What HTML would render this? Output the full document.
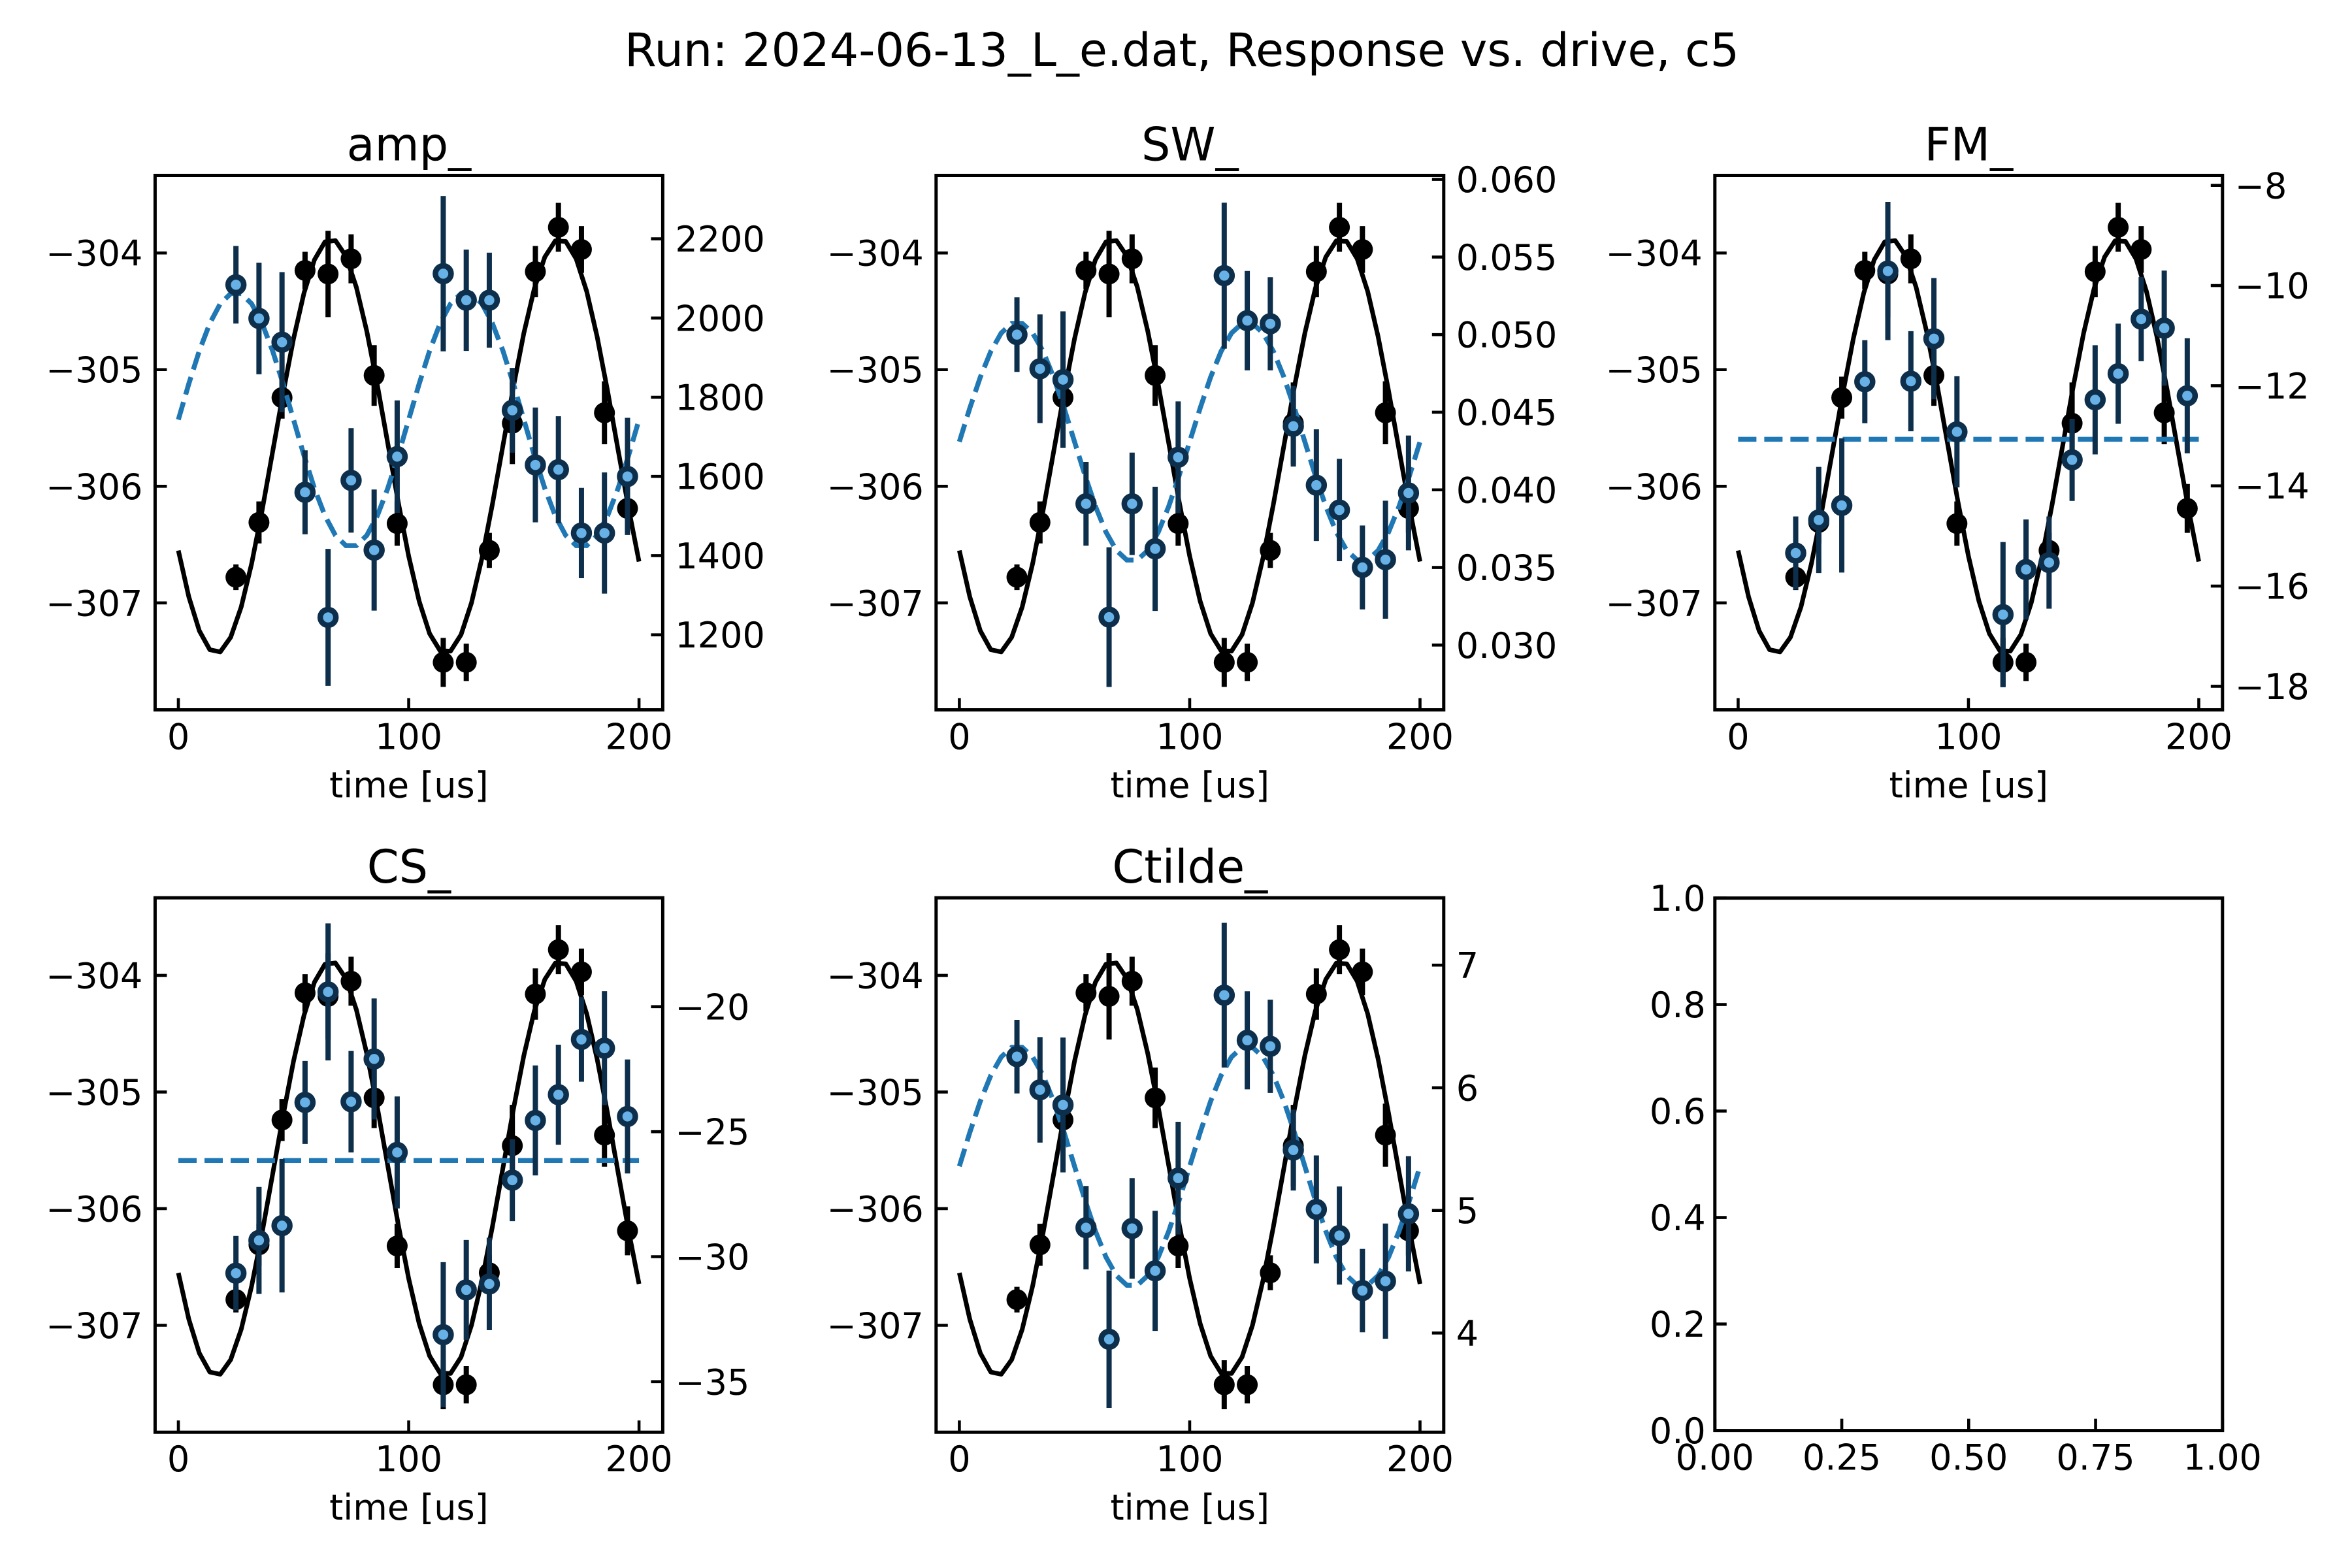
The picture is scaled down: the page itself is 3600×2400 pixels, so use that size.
<!DOCTYPE html>
<html><head><meta charset="utf-8"><style>
html,body{margin:0;padding:0;background:#fff;}
svg{display:block;font-family:"DejaVu Sans","Liberation Sans",sans-serif;}
</style></head><body>
<svg id="fig" width="3600" height="2400" viewBox="0 0 3600 2400" xmlns="http://www.w3.org/2000/svg">
<rect width="3600" height="2400" fill="#fff"/>
<text x="1809" y="101" font-size="70" text-anchor="middle">Run: 2024-06-13_L_e.dat, Response vs. drive, c5</text>
</svg>
<script>
const tVals=[25,35,45,55,65,75,85,95,115,125,135,145,155,165,175,185,195];
const blackVals=[-306.78,-306.31,-305.24,-304.15,-304.18,-304.05,-305.05,-306.32,-307.51,-307.51,-306.55,-305.46,-304.16,-303.78,-303.97,-305.37,-306.19];
const blackErr=[0.11,0.18,0.18,0.16,0.37,0.21,0.26,0.19,0.21,0.16,0.15,0.35,0.22,0.21,0.2,0.27,0.21];
const blackFit=[-305.655,1.775,99.5,16.5];
const ampVals=[2084,1999,1939,1560,1244,1590,1414,1650,2112,2045,2045,1767,1629,1617,1457,1457,1600];
const ampErr=[98,141,177,106,173,132,153,142,196,128,120,107,145,135,114,153,148];
const ampFit=[1743.5,321.5,100,25];
const ampTicks=[1200,1400,1600,1800,2000,2200];
const swVals=[0.0500,0.0478,0.0471,0.0391,0.0318,0.0391,0.0362,0.0421,0.0538,0.0509,0.0507,0.0441,0.0403,0.0387,0.0350,0.0355,0.0398];
const swErr=[0.0024,0.0035,0.0044,0.0027,0.0045,0.0033,0.0040,0.0036,0.0047,0.0032,0.0030,0.0026,0.0036,0.0033,0.0027,0.0038,0.0037];
const swFit=[0.0431,0.0077,100,25];
const swTicks=[0.030,0.035,0.040,0.045,0.050,0.055,0.060];
const fmVals=[-15.34,-14.68,-14.39,-11.92,-9.71,-11.91,-11.06,-12.92,-16.57,-15.67,-15.53,-13.48,-12.28,-11.76,-10.67,-10.85,-12.2];
const fmErr=[0.73,1.06,1.34,0.83,1.38,1.0,1.21,1.11,1.45,1.0,0.92,0.82,1.09,1.0,0.84,1.15,1.15];
const fmFit=[-13.07];
const fmTicks=[-18,-16,-14,-12,-10,-8];
const csVals=[-30.66,-29.35,-28.76,-23.83,-19.41,-23.80,-22.09,-25.83,-33.12,-31.33,-31.09,-26.94,-24.55,-23.52,-21.31,-21.66,-24.39];
const csErr=[1.49,2.14,2.67,1.66,2.74,2.03,2.42,2.24,2.9,2.0,1.85,1.64,2.2,2.0,1.69,2.28,2.28];
const csFit=[-26.15];
const csTicks=[-35,-30,-25,-20];
const ctVals=[6.254,5.983,5.86,4.859,3.949,4.853,4.507,5.263,6.755,6.387,6.338,5.492,5.008,4.795,4.346,4.423,4.972];
const ctErr=[0.30,0.43,0.55,0.34,0.56,0.41,0.49,0.46,0.59,0.40,0.38,0.33,0.44,0.40,0.34,0.47,0.47];
const ctFit=[5.36,0.98,100,25];
const ctTicks=[4,5,6,7];
const leftTicks=[-307,-306,-305,-304];
const xTicks=[0,100,200];
const emptyTicksY=[0,0.2,0.4,0.6,0.8,1.0];
const emptyTicksX=[0,0.25,0.5,0.75,1.0];

const NS="http://www.w3.org/2000/svg";
const svg=document.getElementById('fig');
const W=777,H=818,FS=54;
const xlim=[-10.1,210.3];
const leftLim=[-307.917,-303.335];
function mk(tag,attrs,parent){const e=document.createElementNS(NS,tag);for(const k in attrs)e.setAttribute(k,attrs[k]);(parent||svg).appendChild(e);return e;}
function fmt(v,d){const s=Math.abs(v).toFixed(d);return (v<0?'\u2212':'')+s;}

const panels=[
 {name:'amp',title:'amp_',x:237.4,y:268.5,vals:ampVals,err:ampErr,fit:ampFit,ticks:ampTicks,dec:0,lim:[1010.5,2360.2]},
 {name:'sw',title:'SW_',x:1432.8,y:268.5,vals:swVals,err:swErr,fit:swFit,ticks:swTicks,dec:3,lim:[0.025826,0.060257]},
 {name:'fm',title:'FM_',x:2624.8,y:268.5,vals:fmVals,err:fmErr,fit:fmFit,ticks:fmTicks,dec:0,lim:[-18.471,-7.801]},
 {name:'cs',title:'CS_',x:237.4,y:1374.2,vals:csVals,err:csErr,fit:csFit,ticks:csTicks,dec:0,lim:[-37.022,-15.645]},
 {name:'ctilde',title:'Ctilde_',x:1432.8,y:1374.2,vals:ctVals,err:ctErr,fit:ctFit,ticks:ctTicks,dec:0,lim:[3.191,7.549]}
];

function fitVal(fit,t,sign){
  if(fit.length===1) return fit[0];
  return fit[0]+sign*fit[1]*Math.cos(2*Math.PI*(t-fit[3])/fit[2]);
}

panels.forEach(p=>{
  const g=mk('g',{});
  
  
  const sx=t=>p.x+(t-xlim[0])/(xlim[1]-xlim[0])*W;
  const syL=v=>p.y+(leftLim[1]-v)/(leftLim[1]-leftLim[0])*H;
  const syR=v=>p.y+(p.lim[1]-v)/(p.lim[1]-p.lim[0])*H;
  const clip=mk('clipPath',{id:'clip-'+p.name},g);
  mk('rect',{x:p.x,y:p.y,width:W,height:H},clip);
  const plot=mk('g',{'clip-path':'url(#clip-'+p.name+')'},g);
  tVals.forEach((t,i)=>{
    const eb=mk('line',{x1:sx(t),x2:sx(t),y1:syL(blackVals[i]-blackErr[i]),y2:syL(blackVals[i]+blackErr[i]),stroke:'#000','stroke-width':8},plot);
    
    
    const c=mk('circle',{cx:sx(t),cy:syL(blackVals[i]),r:16,fill:'#000'},plot);
    
    
  });
  let d='';
  for(let k=0;k<45;k++){const t=200*k/44;d+=(k?'L':'M')+sx(t).toFixed(1)+','+syL(fitVal(blackFit,t,-1)).toFixed(1);}
  const bl=mk('path',{d:d,fill:'none',stroke:'#000','stroke-width':7,'stroke-linejoin':'round'},plot);
  
  
  d='';
  for(let k=0;k<45;k++){const t=200*k/44;d+=(k?'L':'M')+sx(t).toFixed(1)+','+syR(fitVal(p.fit,t,1)).toFixed(1);}
  const dl=mk('path',{d:d,fill:'none',stroke:'#1f77b4','stroke-width':7.5,'stroke-dasharray':'28 12'},plot);
  
  
  tVals.forEach((t,i)=>{
    const eb=mk('line',{x1:sx(t),x2:sx(t),y1:syR(p.vals[i]-p.err[i]),y2:syR(p.vals[i]+p.err[i]),stroke:'#0d2f4b','stroke-width':8},plot);
    
    
    const c=mk('circle',{cx:sx(t),cy:syR(p.vals[i]),r:12,fill:'#67b1e6',stroke:'#0d2f4b','stroke-width':8.5},plot);
    
    
  });
  leftTicks.forEach(v=>{
    const y=syL(v);
    mk('line',{x1:p.x,x2:p.x+18,y1:y,y2:y,stroke:'#000','stroke-width':4.6},g);
    const tx=mk('text',{x:p.x-19,y:y+19.5,'font-size':FS,'text-anchor':'end'},g);
    tx.textContent=fmt(v,0);
    
    
  });
  p.ticks.forEach(v=>{
    const y=syR(v);
    mk('line',{x1:p.x+W-18,x2:p.x+W,y1:y,y2:y,stroke:'#000','stroke-width':4.6},g);
    const tx=mk('text',{x:p.x+W+19,y:y+19.5,'font-size':FS,'text-anchor':'start'},g);
    tx.textContent=fmt(v,p.dec);
    
    
  });
  xTicks.forEach(v=>{
    const x=sx(v);
    mk('line',{x1:x,x2:x,y1:p.y+H-18,y2:p.y+H,stroke:'#000','stroke-width':4.6},g);
    const tx=mk('text',{x:x,y:p.y+H+60,'font-size':FS,'text-anchor':'middle'},g);
    tx.textContent=String(v);
    
    
  });
  const sp=mk('rect',{x:p.x,y:p.y,width:W,height:H,fill:'none',stroke:'#000','stroke-width':5},g);
  
  
  const xl=mk('text',{x:p.x+W/2,y:p.y+H+134,'font-size':FS,'text-anchor':'middle'},g);
  xl.textContent='time [us]';
  
  
  const ti=mk('text',{x:p.x+W/2,y:p.y-23,'font-size':70,'text-anchor':'middle'},g);
  ti.textContent=p.title;
  
  
});

(function(){
  const px=2624.8,py=1374.6,w=777,h=815;
  const g=mk('g',{});
  
  
  emptyTicksY.forEach(v=>{
    const y=py+h-v*h;
    mk('line',{x1:px,x2:px+18,y1:y,y2:y,stroke:'#000','stroke-width':4.6},g);
    const tx=mk('text',{x:px-14,y:y+19.5,'font-size':FS,'text-anchor':'end'},g);
    tx.textContent=v.toFixed(1);
    
    
  });
  emptyTicksX.forEach(v=>{
    const x=px+v*w;
    mk('line',{x1:x,x2:x,y1:py+h-18,y2:py+h,stroke:'#000','stroke-width':4.6},g);
    const tx=mk('text',{x:x,y:py+h+60,'font-size':FS,'text-anchor':'middle'},g);
    tx.textContent=v.toFixed(2);
    
    
  });
  const sp=mk('rect',{x:px,y:py,width:w,height:h,fill:'none',stroke:'#000','stroke-width':5},g);
  
  
})();
</script>
</body></html>
